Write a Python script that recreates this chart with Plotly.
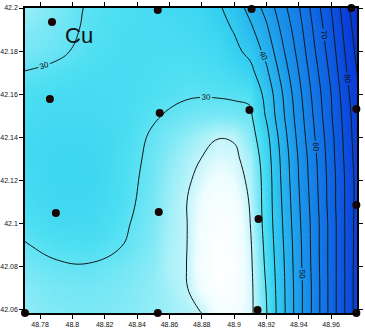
import plotly.graph_objects as go

# grid of estimated values (Cu concentration)
x_grid = [48.77, 48.79, 48.81, 48.83, 48.85, 48.86, 48.87, 48.88, 48.89,
          48.90, 48.91, 48.92, 48.93, 48.94, 48.95, 48.96, 48.97, 48.98]
y_grid = [42.05, 42.06, 42.07, 42.08, 42.09, 42.10, 42.11, 42.12, 42.13,
          42.14, 42.15, 42.16, 42.17, 42.18, 42.19, 42.20, 42.21]

z_rows = [
    [27, 28, 28.3, 28, 27.3, 27, 26.5, 26, 23.5, 23, 24.2, 29.5, 38.3, 47.8, 57, 67, 76.5, 86],
    [27.5, 28.3, 28.6, 28.2, 27.4, 26.8, 26, 24.8, 22, 22, 24, 29.8, 38.5, 48, 57, 67, 76.5, 86],
    [28, 28.8, 29, 28.5, 27.5, 26.5, 25.4, 22.5, 20.5, 21, 24, 30.2, 38.7, 48, 57, 67, 76.5, 86],
    [28.8, 29.6, 29.8, 29, 27.8, 26, 25.2, 21.8, 20.1, 20.8, 24.2, 30.8, 39, 48.3, 57.3, 67, 76.5, 86],
    [29.8, 30.8, 31, 30.1, 28.2, 26.3, 25.3, 22, 20.3, 21, 24.5, 31.3, 39.5, 48.5, 57.5, 67, 76.5, 85.5],
    [30.7, 31.8, 32, 30.6, 28.5, 26.5, 25.3, 22.3, 20.8, 21.3, 25, 31.8, 40, 49, 57.5, 67, 76.5, 85.5],
    [31.3, 32.5, 32.5, 31, 28.8, 26.8, 25.2, 22.8, 21.5, 22, 25.3, 32, 40.5, 49.5, 58, 67.5, 76.5, 85],
    [31.8, 32.8, 32.8, 31.2, 29, 27.2, 25.7, 23.8, 22.5, 23.2, 25.8, 32, 41, 50, 58.5, 67.5, 76.5, 85],
    [32, 32.8, 32.8, 31.3, 29.3, 27.8, 26.3, 24.9, 23.8, 24.2, 26.5, 32.5, 41.5, 50.5, 59, 68, 77, 85.5],
    [32, 32.5, 32.5, 31.5, 29.6, 28.6, 27.5, 26.3, 25.1, 25.3, 28, 33.5, 42.5, 51.5, 60, 68.5, 77.5, 86],
    [31.5, 32, 32, 31.5, 30.3, 29.7, 29.2, 28.8, 28.6, 28.8, 29.3, 35.5, 44, 52.5, 61, 69.5, 78, 86.5],
    [31, 31.5, 31.7, 31.5, 31, 30.6, 30.3, 30.2, 30.3, 30.5, 30.8, 36.5, 45, 53.5, 62, 70, 79, 87],
    [30.1, 30.6, 31.2, 31.4, 31.1, 30.9, 30.8, 30.9, 31.3, 32.1, 33.5, 39, 47, 55, 63.3, 71.2, 80.2, 88.2],
    [28.7, 29.5, 30.7, 31.3, 31.25, 31.3, 31.4, 31.7, 32.3, 33.8, 36.3, 41.6, 49.2, 56.6, 64.8, 72.5, 81.4, 89.5],
    [28, 29, 30.4, 31.2, 31.4, 31.6, 31.9, 32.4, 33.3, 35.3, 38.9, 44.1, 51.2, 58, 66.1, 73.7, 82.6, 90.7],
    [27, 28.5, 30.3, 31, 31.5, 32, 32.5, 33.2, 34.3, 37, 41.7, 46.7, 53.3, 59.6, 67.5, 75, 83.8, 92],
    [26, 27.5, 30, 31, 31.6, 32.2, 32.8, 34, 35.5, 39, 44.5, 49.5, 55.5, 61.3, 69, 76.3, 85, 93.3],
]

# sample locations (black dots)
sample_x = [48.7874, 48.8528, 48.9108, 48.9725,
            48.7861, 48.8540, 48.9095, 48.9756,
            48.7898, 48.8534, 48.9151, 48.9756,
            48.7707, 48.8528, 48.9145, 48.9756]
sample_y = [42.1935, 42.1991, 42.1995, 42.2000,
            42.1578, 42.1513, 42.1527, 42.1532,
            42.1050, 42.1054, 42.1022, 42.1087,
            42.0586, 42.0586, 42.0600, 42.0586]

x_ticks = [48.78, 48.80, 48.82, 48.84, 48.86, 48.88, 48.90, 48.92, 48.94, 48.96]
x_ticktext = ["48.78", "48.8", "48.82", "48.84", "48.86", "48.88", "48.9", "48.92", "48.94", "48.96"]
y_ticks = [42.06, 42.08, 42.10, 42.12, 42.14, 42.16, 42.18, 42.20]
y_ticktext = ["42.06", "42.08", "42.1", "42.12", "42.14", "42.16", "42.18", "42.2"]

colorscale = [
    [0.0, "#FFFFFF"],
    [0.043, "#EEFDFF"],
    [0.071, "#C4F5FB"],
    [0.114, "#86EAF6"],
    [0.157, "#4CDEF2"],
    [0.2, "#36D0F0"],
    [0.286, "#28B6EE"],
    [0.429, "#1A94EA"],
    [0.643, "#106CE4"],
    [0.857, "#0A46DC"],
    [1.0, "#0630D0"],
]

fig = go.Figure()
fig.add_trace(go.Contour(
    x=x_grid, y=y_grid, z=z_rows,
    zmin=20, zmax=90, colorscale=colorscale, showscale=False,
    contours=dict(coloring="heatmap", start=25, end=95, size=10),
    line=dict(color="#101818", width=1, smoothing=1.2),
    hoverinfo="skip",
))
fig.add_trace(go.Contour(
    x=x_grid, y=y_grid, z=z_rows,
    showscale=False,
    contours=dict(coloring="none", start=30, end=90, size=10,
                  showlabels=True,
                  labelfont=dict(size=8, color="#101010", family="Liberation Sans")),
    line=dict(color="#101818", width=1, smoothing=1.2),
    hoverinfo="skip",
))
fig.add_trace(go.Scatter(
    x=sample_x, y=sample_y, mode="markers",
    marker=dict(color="#1a0505", size=8),
    cliponaxis=False, hoverinfo="skip",
))

fig.add_annotation(text="Cu", xref="paper", yref="paper", x=0.163, y=0.911,
                   xanchor="center", yanchor="middle",
                   showarrow=False, font=dict(size=22, color="#111111",
                                              family="Liberation Sans"))

axis_common = dict(showgrid=False, zeroline=False, showline=True, linecolor="#000000",
                   linewidth=1.5, mirror="ticks", ticks="outside", ticklen=4,
                   tickcolor="#000000", tickwidth=1, automargin=False,
                   tickfont=dict(size=7, color="#111111", family="Liberation Sans"))

fig.update_layout(
    width=365, height=328,
    margin=dict(l=25, r=8, t=8, b=15),
    paper_bgcolor="white", plot_bgcolor="white",
    showlegend=False,
    xaxis=dict(range=[48.7707, 48.976], tickvals=x_ticks, ticktext=x_ticktext, **axis_common),
    yaxis=dict(range=[42.0586, 42.2], tickvals=y_ticks, ticktext=y_ticktext, **axis_common),
)

fig.write_html("out.html", config={"displayModeBar": False},
               post_script="document.body.style.margin='0';document.body.style.overflow='hidden';")
